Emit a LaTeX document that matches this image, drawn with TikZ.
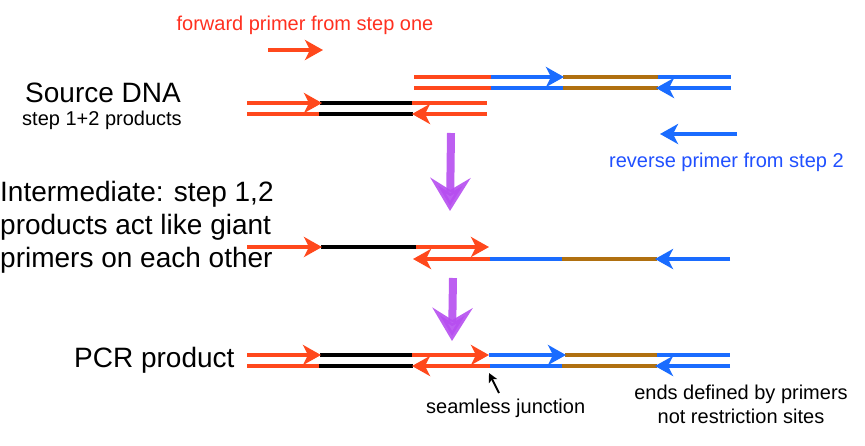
\documentclass[tikz,border=0pt]{standalone}
\usepackage{fontspec}
\setmainfont{Liberation Sans}
\usetikzlibrary{arrows.meta}
\definecolor{dnared}{RGB}{255,72,28}
\definecolor{dnablue}{RGB}{26,108,255}
\definecolor{dnabrown}{RGB}{176,112,16}
\definecolor{txtred}{RGB}{255,48,32}
\definecolor{txtblue}{RGB}{32,80,255}
\definecolor{purp}{RGB}{182,78,240}
\tikzset{
  strand/.style={line width=4.2pt},
  tipped/.style={strand,-{Stealth[length=18pt,width=20pt,inset=5pt]}},
  bigtext/.style={font=\fontsize{28}{33}\selectfont, inner sep=0pt},
  smalltext/.style={font=\fontsize{20}{24}\selectfont, inner sep=0pt},
  purparrow/.style={line width=8pt, purp, opacity=0.9, -{Stealth[length=33pt,width=40pt,inset=12pt]}},
  pointer/.style={line width=1.8pt, black, -{Stealth[length=9pt,width=9pt,inset=2pt]}}
}
\begin{document}
\begin{tikzpicture}[x=1pt,y=-1pt]
\useasboundingbox (0,0) rectangle (865,445);

% ---- texts ----
\node[smalltext, txtred, anchor=base] (fwdlabel) at (305,30) {forward primer from step one};
\node[bigtext, anchor=base] (source) at (103,102) {Source DNA};
\node[smalltext, anchor=base] (sourcesub) at (102,125) {step 1+2 products};
\node[bigtext, anchor=north west, align=left] (inter) at (0,181.5) {Intermediate: step 1,2\\products act like giant\\primers on each other};
\node[bigtext, anchor=base west] (pcr) at (74,367) {PCR product};
\node[smalltext, txtblue, anchor=base west] (revlabel) at (609,167) {reverse primer from step 2};
\node[smalltext, anchor=base west] (seam) at (426,413) {seamless junction};
\node[smalltext, anchor=base, align=center] (ends1) at (741,399) {ends defined by primers};
\node[smalltext, anchor=base] (ends2) at (741,423) {not restriction sites};

% ---- free primers ----
\draw[tipped, dnared] (268,50) -- (323,50);
\draw[tipped, dnablue] (737,134) -- (660,134);

% ---- row 1 left : step 1 product ----
\draw[strand, black] (320,103) -- (412,103);
\draw[strand, dnared] (412,103) -- (487,103);
\draw[tipped, dnared] (247,103) -- (322,103);
\draw[strand, dnared] (247,114) -- (319,114);
\draw[strand, black] (319,114) -- (413,114);
\draw[tipped, dnared] (487,114) -- (412,114);

% ---- row 1 right : step 2 product ----
\draw[strand, dnared] (414,77) -- (491,77);
\draw[strand, dnabrown] (563,77) -- (658,77);
\draw[strand, dnablue] (658,77) -- (731,77);
\draw[tipped, dnablue] (491,77) -- (564,77);
\draw[strand, dnared] (414,88) -- (491,88);
\draw[strand, dnablue] (491,88) -- (563,88);
\draw[strand, dnabrown] (563,88) -- (658,88);
\draw[tipped, dnablue] (731,88) -- (656,88);

% ---- row 2 : intermediate ----
\draw[strand, black] (321,247) -- (416,247);
\draw[tipped, dnared] (247,247) -- (322,247);
\draw[tipped, dnared] (416,247) -- (489,247);
\draw[strand, dnablue] (489,259) -- (562,259);
\draw[strand, dnabrown] (562,259) -- (657,259);
\draw[tipped, dnablue] (730,259) -- (655,259);
\draw[tipped, dnared] (490,259) -- (413,259);

% ---- row 3 : PCR product ----
\draw[strand, black] (320,355) -- (412,355);
\draw[strand, dnabrown] (565,355) -- (657,355);
\draw[strand, dnablue] (657,355) -- (730,355);
\draw[tipped, dnared] (247,355) -- (321,355);
\draw[tipped, dnared] (412,355) -- (489,355);
\draw[tipped, dnablue] (489,355) -- (566,355);
\draw[strand, dnared] (247,366) -- (319,366);
\draw[strand, black] (319,366) -- (413,366);
\draw[strand, dnablue] (490,366) -- (562,366);
\draw[strand, dnabrown] (562,366) -- (657,366);
\draw[tipped, dnared] (490,366) -- (412,366);
\draw[tipped, dnablue] (730,366) -- (655,366);

% ---- purple process arrows ----
\coordinate (p1a) at (451,133);
\coordinate (p1b) at (450,211);
\coordinate (p2a) at (453,278);
\coordinate (p2b) at (452,341);
\draw[purparrow] (p1a) -- (p1b);
\draw[purparrow] (p2a) -- (p2b);

% ---- junction pointer ----
\coordinate (jtail) at (499,393);
\coordinate (jtip) at (489,373);
\draw[pointer] (jtail) -- (jtip);
\end{tikzpicture}
\end{document}
